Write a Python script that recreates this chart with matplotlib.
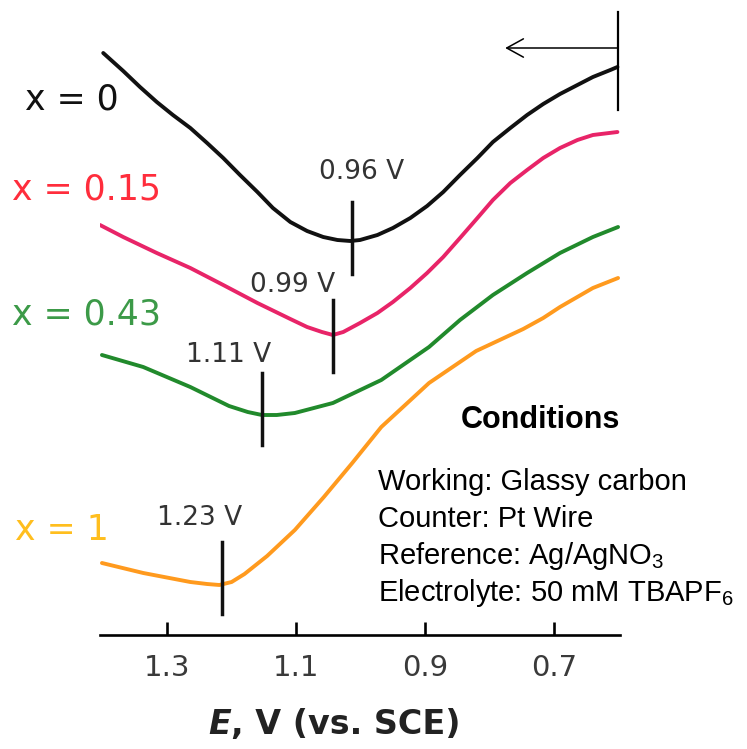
import matplotlib.pyplot as plt

plt.rcParams['mathtext.fontset'] = 'custom'
plt.rcParams['mathtext.rm'] = 'Liberation Sans'
plt.rcParams['mathtext.it'] = 'Liberation Sans:italic'

# scan potential (V vs SCE) and current (arb. units, traces offset)
E_x0 = [1.399, 1.368, 1.342, 1.316, 1.291, 1.264, 1.238, 1.213, 1.187, 1.160, 1.136,
        1.109, 1.083, 1.058, 1.036, 1.016, 1.001, 0.974, 0.950, 0.923, 0.897, 0.872,
        0.846, 0.819, 0.795, 0.768, 0.742, 0.717, 0.691, 0.664, 0.640, 0.613, 0.602]
I_x0 = [5.82, 5.64, 5.48, 5.33, 5.20, 5.07, 4.92, 4.77, 4.60, 4.43, 4.27,
        4.13, 4.04, 3.98, 3.95, 3.94, 3.95, 4.00, 4.07, 4.17, 4.29, 4.43,
        4.60, 4.77, 4.93, 5.07, 5.20, 5.31, 5.41, 5.50, 5.58, 5.65, 5.68]

E_x015 = [1.404, 1.368, 1.316, 1.264, 1.213, 1.160, 1.109, 1.083, 1.060, 1.043, 1.027,
          1.001, 0.974, 0.950, 0.923, 0.897, 0.872, 0.846, 0.819, 0.795, 0.768, 0.742,
          0.717, 0.691, 0.664, 0.640, 0.602]
I_x015 = [4.10, 3.98, 3.82, 3.67, 3.50, 3.32, 3.16, 3.08, 3.03, 3.00, 3.03,
          3.12, 3.22, 3.33, 3.47, 3.62, 3.78, 3.97, 4.17, 4.35, 4.52, 4.65,
          4.77, 4.87, 4.95, 5.00, 5.03]

E_x043 = [1.401, 1.337, 1.264, 1.204, 1.175, 1.153, 1.130, 1.102, 1.043, 0.968, 0.894,
          0.846, 0.795, 0.742, 0.691, 0.640, 0.601]
I_x043 = [2.80, 2.68, 2.48, 2.29, 2.23, 2.20, 2.20, 2.22, 2.32, 2.55, 2.88,
          3.15, 3.40, 3.62, 3.82, 3.98, 4.08]

E_x1 = [1.401, 1.337, 1.264, 1.238, 1.219, 1.200, 1.180, 1.145, 1.102, 1.057, 1.013,
        0.968, 0.894, 0.821, 0.748, 0.717, 0.691, 0.640, 0.601]
I_x1 = [0.72, 0.62, 0.53, 0.51, 0.50, 0.53, 0.61, 0.79, 1.05, 1.38, 1.72,
        2.08, 2.52, 2.84, 3.06, 3.17, 3.28, 3.47, 3.57]

names = ['x = 0', 'x = 0.15', 'x = 0.43', 'x = 1']
line_colors = ['#111111', '#e82468', '#218a2c', '#ff9a1e']
name_colors = ['#111111', '#ff2d3c', '#3c9a48', '#ffbe1e']

# peak markers: position on the plot, level of the trace, printed value
peak_E = [1.013, 1.043, 1.153, 1.215]
peak_I = [3.97, 2.99, 2.26, 0.57]
peak_text = ['0.96 V', '0.99 V', '1.11 V', '1.23 V']

ticks = [1.3, 1.1, 0.9, 0.7]
conditions = ['Working: Glassy carbon', 'Counter: Pt Wire',
              'Reference: Ag/AgNO$_3$', 'Electrolyte: 50 mM TBAPF$_6$']

fig = plt.figure(figsize=(7.47, 7.49), dpi=100)
ax = fig.add_axes([100 / 747, 1 - 635 / 749, 520 / 747, 635 / 749])
ax.set_xlim(1.404, 0.598)
ax.set_ylim(0, 6.35)

curves = [(E_x0, I_x0), (E_x015, I_x015), (E_x043, I_x043), (E_x1, I_x1)]
for (E, I), c in zip(curves, line_colors):
    ax.plot(E, I, color=c, lw=2.8, solid_capstyle='round', solid_joinstyle='round')

# peak ticks and labels
label_pos = [(0.998, 4.63), (1.105, 3.50), (1.204, 2.80), (1.249, 1.17)]
for e, i, t, (lx, ly) in zip(peak_E, peak_I, peak_text, label_pos):
    ax.plot([e, e], [i - 0.36, i + 0.36], color='#111111', lw=2.5)
    ax.text(lx, ly, t, ha='center', va='center', fontsize=19, color='#333333')

# scan direction
ax.plot([0.601, 0.601], [5.25, 6.23], color='black', lw=1.6, clip_on=False)
ax.annotate('', xy=(0.776, 5.87), xytext=(0.601, 5.87),
            arrowprops=dict(arrowstyle='->,head_length=0.6,head_width=0.33',
                            lw=1.1, color='black', mutation_scale=20,
                            shrinkA=0, shrinkB=0))

for s in ['left', 'top', 'right']:
    ax.spines[s].set_visible(False)
ax.spines['bottom'].set_linewidth(1.9)
ax.set_yticks([])
ax.set_xticks(ticks)
ax.set_xticklabels([f'{t:.1f}' for t in ticks], fontsize=21, color='#3a3a3a')
ax.tick_params(axis='x', direction='in', length=9.5, width=1.9, pad=14)
ax.patch.set_alpha(0)

# composition labels
name_pos = [(25, 100), (12, 190), (12, 315), (15, 530)]
for n, c, (px, py) in zip(names, name_colors, name_pos):
    fig.text(px / 747, 1 - py / 749, n, ha='left', va='center', fontsize=25, color=c)

# axis title with italic E
fig.canvas.draw()
tE = fig.text(208 / 747, 1 - 734 / 749, 'E', fontsize=24, fontweight='bold',
              style='italic', color='#222222', va='baseline')
bb = tE.get_window_extent(fig.canvas.get_renderer())
fig.text(bb.x1 / fig.bbox.width, 1 - 734 / 749, ', V (vs. SCE)', fontsize=24,
         fontweight='bold', color='#222222', va='baseline')

# conditions box
fig.text(540 / 747, 1 - 428 / 749, 'Conditions', family='Liberation Sans',
         fontweight='bold', fontsize=22, ha='center', va='baseline')
for k, line in enumerate(conditions):
    fig.text(378 / 747, 1 - (490 + 37 * k) / 749, line, family='Liberation Sans',
             fontsize=21, ha='left', va='baseline')

fig.savefig('out.png', dpi=100)
